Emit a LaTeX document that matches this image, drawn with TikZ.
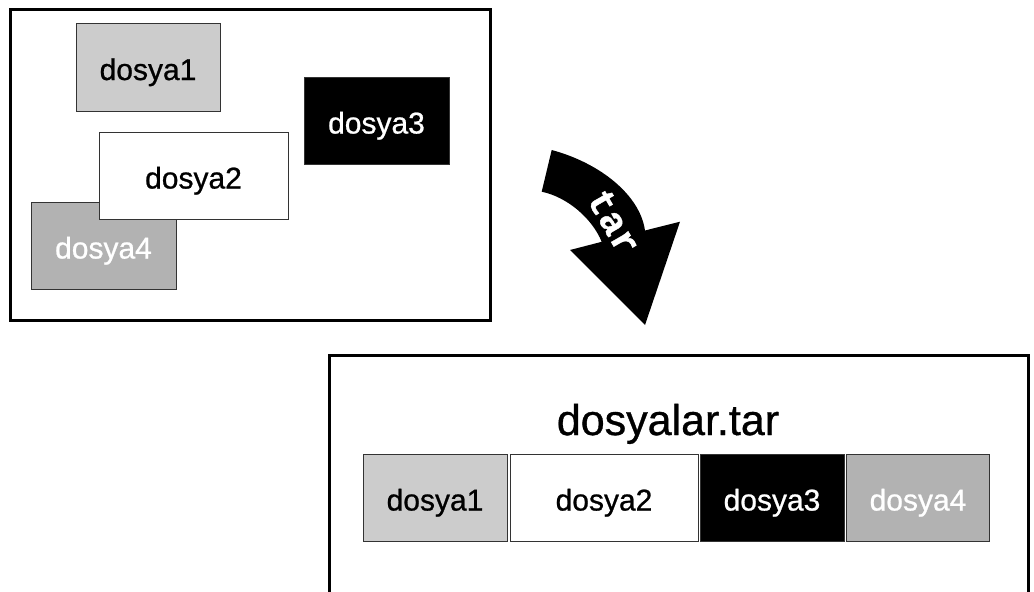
\documentclass[tikz,border=0pt]{standalone}
\usepackage{fontspec}
\setmainfont[FakeBold=0.8]{Liberation Sans}
\newfontfamily\monobold[FakeBold=1]{Liberation Mono Bold}
\definecolor{lgray}{HTML}{CCCCCC}
\definecolor{dgray}{HTML}{B2B2B2}
\definecolor{edge}{HTML}{333333}
\begin{document}
\begin{tikzpicture}[x=1pt,y=-1pt,
  frame/.style={draw=black,line width=3pt},
  filebox/.style={draw=edge,line width=1pt,inner sep=0pt,
    text height=26pt,text depth=0pt,font=\fontsize{30}{36}\selectfont},
  wbox/.style={filebox,minimum width=#1,minimum height=87pt},
  title/.style={anchor=base,font=\fontsize{43}{50}\selectfont},
  tarlbl/.style={text=white,font=\monobold\fontsize{38}{42}\selectfont,inner sep=0pt}]
\useasboundingbox (0,0) rectangle (1034,592);
\clip (0,0) rectangle (1034,592);
% top frame
\draw[frame] (10,9) rectangle (490,320);
\node[wbox=144pt,minimum height=88pt,fill=lgray] (a1) at (148,67) {dosya1};
\node[wbox=145pt,fill=black,text=white] (a3) at (376.5,120.5) {dosya3};
\node[wbox=145pt,fill=dgray,text=white] (a4) at (103.5,245.5) {dosya4};
\node[wbox=189pt,fill=white] (a2) at (193.5,175.5) {dosya2};
% arrow
\fill[black] (551.7,150) .. controls (600,163) and (640,195) .. (645,230.5)
  -- (680,221.7) -- (645,325) -- (570,250) -- (601.7,241.8)
  .. controls (592,218) and (567,197) .. (541.7,191.7) -- cycle;
\node[tarlbl,rotate=-60] (tar) at (614,222) {tar};
% bottom frame
\draw[frame] (329,355) rectangle (1028,640);
\node[title] (name) at (668,435) {dosyalar.tar};
\node[wbox=144pt,fill=lgray] (b1) at (435,497.5) {dosya1};
\node[wbox=188pt,fill=white] (b2) at (604,497.5) {dosya2};
\node[wbox=144pt,fill=black,text=white] (b3) at (772,497.5) {dosya3};
\node[wbox=143pt,fill=dgray,text=white] (b4) at (918,497.5) {dosya4};
\end{tikzpicture}
\end{document}
